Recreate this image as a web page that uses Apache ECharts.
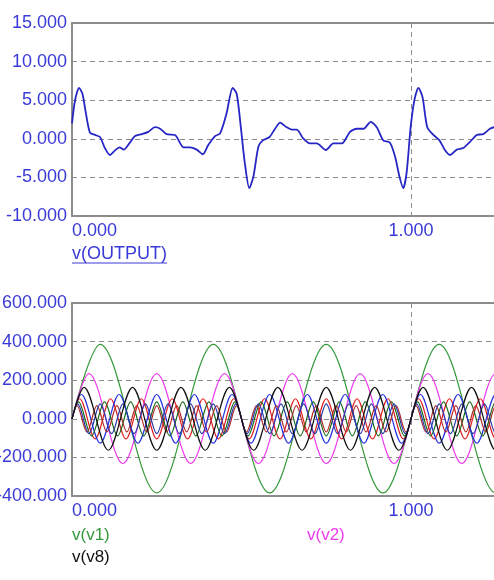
<!DOCTYPE html>
<html>
<head>
<meta charset="utf-8">
<script src="https://cdn.jsdelivr.net/npm/echarts@6.0.0/dist/echarts.min.js"></script>
<style>html,body{margin:0;background:#fff}#chart{width:494px;height:580px}</style>
</head>
<body>
<div id="chart"></div>
<script>
// v(OUTPUT) trace, [time, volts]
const output = [
  [0.000, 2.0], [0.009, 5.0], [0.021, 6.6], [0.031, 5.8], [0.041, 3.3], [0.053, 0.8],
  [0.068, 0.5], [0.083, 0.2], [0.097, -1.2], [0.112, -2.1], [0.127, -1.5], [0.140, -1.1],
  [0.153, -1.4], [0.169, -0.6], [0.186, 0.35], [0.206, 0.6], [0.225, 0.9], [0.245, 1.5],
  [0.260, 1.3], [0.279, 0.6], [0.304, 0.5], [0.329, -1.1], [0.348, -1.1], [0.368, -1.4],
  [0.386, -2.0], [0.402, -0.8], [0.422, 0.35], [0.437, 0.7], [0.456, 3.3], [0.474, 6.6],
  [0.486, 5.8], [0.498, 1.5], [0.510, -3.2], [0.523, -6.4], [0.535, -4.9], [0.550, -1.0],
  [0.563, -0.2], [0.582, 0.2], [0.599, 1.3], [0.614, 2.1], [0.633, 1.5], [0.648, 1.2],
  [0.663, 1.2], [0.682, 0.05], [0.702, -0.6], [0.722, -0.6], [0.749, -1.45], [0.771, -0.6],
  [0.796, -0.6], [0.820, 0.9], [0.840, 1.3], [0.860, 1.3], [0.881, 2.2], [0.899, 1.5],
  [0.918, -0.2], [0.938, -0.5], [0.953, -2.3], [0.966, -4.9], [0.977, -6.4], [0.987, -4.4],
  [0.999, 1.5], [1.010, 5.0], [1.022, 6.6], [1.034, 5.4], [1.048, 1.5], [1.066, 0.5],
  [1.084, -0.2], [1.100, -1.45], [1.115, -2.1], [1.135, -1.4], [1.154, -1.2], [1.174, -0.4],
  [1.194, 0.5], [1.213, 0.6], [1.233, 1.3], [1.254, 1.6]
];

// v(v1)..v(v8): start point plus the peaks and troughs
const v1 = [[0, 0], [0.083, 386], [0.250, -384], [0.417, 386], [0.583, -384], [0.750, 386],
  [0.917, -384], [1.083, 386], [1.250, -384], [1.417, 386]];
const v2 = [[0, 0], [0.05, 234], [0.15, -232], [0.25, 234], [0.35, -232], [0.45, 234], [0.55, -232],
  [0.65, 234], [0.75, -232], [0.85, 234], [0.95, -232], [1.05, 234], [1.15, -232], [1.25, 234], [1.35, -232]];
const v3 = [[0, 0], [0.0227, 104], [0.0682, -104], [0.1136, 104], [0.1591, -104], [0.2045, 104],
  [0.25, -104], [0.2955, 104], [0.3409, -104], [0.3864, 104], [0.4318, -104], [0.4773, 104],
  [0.5227, -104], [0.5682, 104], [0.6136, -104], [0.6591, 104], [0.7045, -104], [0.75, 104],
  [0.7955, -104], [0.8409, 104], [0.8864, -104], [0.9318, 104], [0.9773, -104], [1.0227, 104],
  [1.0682, -104], [1.1136, 104], [1.1591, -104], [1.2045, 104], [1.25, -104], [1.2955, 104]];
const v4 = [[0, 0], [0.0278, 126], [0.0833, -126], [0.1389, 126], [0.1944, -126], [0.25, 126],
  [0.3056, -126], [0.3611, 126], [0.4167, -126], [0.4722, 126], [0.5278, -126], [0.5833, 126],
  [0.6389, -126], [0.6944, 126], [0.75, -126], [0.8056, 126], [0.8611, -126], [0.9167, 126],
  [0.9722, -126], [1.0278, 126], [1.0833, -126], [1.1389, 126], [1.1944, -126], [1.25, 126], [1.3056, -126]];
const v5 = [[0, 0], [0.0192, 88], [0.0577, -88], [0.0962, 88], [0.1346, -88], [0.1731, 88], [0.2115, -88],
  [0.25, 88], [0.2885, -88], [0.3269, 88], [0.3654, -88], [0.4038, 88], [0.4423, -88], [0.4808, 88],
  [0.5192, -88], [0.5577, 88], [0.5962, -88], [0.6346, 88], [0.6731, -88], [0.7115, 88], [0.75, -88],
  [0.7885, 88], [0.8269, -88], [0.8654, 88], [0.9038, -88], [0.9423, 88], [0.9808, -88], [1.0192, 88],
  [1.0577, -88], [1.0962, 88], [1.1346, -88], [1.1731, 88], [1.2115, -88], [1.25, 88], [1.2885, -88]];
const v6 = [[0, 0], [0.0147, 68], [0.0441, -68], [0.0735, 68], [0.1029, -68], [0.1324, 68], [0.1618, -68],
  [0.1912, 68], [0.2206, -68], [0.25, 68], [0.2794, -68], [0.3088, 68], [0.3382, -68], [0.3676, 68],
  [0.3971, -68], [0.4265, 68], [0.4559, -68], [0.4853, 68], [0.5147, -68], [0.5441, 68], [0.5735, -68],
  [0.6029, 68], [0.6324, -68], [0.6618, 68], [0.6912, -68], [0.7206, 68], [0.75, -68], [0.7794, 68],
  [0.8088, -68], [0.8382, 68], [0.8676, -68], [0.8971, 68], [0.9265, -68], [0.9559, 68], [0.9853, -68],
  [1.0147, 68], [1.0441, -68], [1.0735, 68], [1.1029, -68], [1.1324, 68], [1.1618, -68], [1.1912, 68],
  [1.2206, -68], [1.25, 68], [1.2794, -68]];
const v7 = [[0, 0], [0.0167, 77], [0.05, -77], [0.0833, 77], [0.1167, -77], [0.15, 77], [0.1833, -77],
  [0.2167, 77], [0.25, -77], [0.2833, 77], [0.3167, -77], [0.35, 77], [0.3833, -77], [0.4167, 77],
  [0.45, -77], [0.4833, 77], [0.5167, -77], [0.55, 77], [0.5833, -77], [0.6167, 77], [0.65, -77],
  [0.6833, 77], [0.7167, -77], [0.75, 77], [0.7833, -77], [0.8167, 77], [0.85, -77], [0.8833, 77],
  [0.9167, -77], [0.95, 77], [0.9833, -77], [1.0167, 77], [1.05, -77], [1.0833, 77], [1.1167, -77],
  [1.15, 77], [1.1833, -77], [1.2167, 77], [1.25, -77], [1.2833, 77]];
const v8 = [[0, 0], [0.0357, 163], [0.1071, -163], [0.1786, 163], [0.25, -163], [0.3214, 163], [0.3929, -163],
  [0.4643, 163], [0.5357, -163], [0.6071, 163], [0.6786, -163], [0.75, 163], [0.8214, -163], [0.8929, 163],
  [0.9643, -163], [1.0357, 163], [1.1071, -163], [1.1786, 163], [1.25, -163], [1.3214, 163]];

const xTicks = [0, 1];
const topY = [-10, 15, 5];
const botY = [-400, 600, 200];

const FONT = '"Liberation Sans", Arial, sans-serif';
const LABEL = '#3a3ad8';
const GRIDC = '#8c8c8c';
const X_MAX = 1.2537;

const chart = echarts.init(document.getElementById('chart'));

function xAxisFor(gi) {
  return {
    gridIndex: gi, type: 'value', min: xTicks[0], max: X_MAX, interval: xTicks[1] - xTicks[0],
    axisLine: { show: false }, axisTick: { show: false },
    splitLine: { show: true, lineStyle: { color: GRIDC, type: [5, 4], width: 1 } },
    axisLabel: {
      color: LABEL, fontSize: 18, fontFamily: FONT, margin: 6,
      formatter: v => v.toFixed(3), showMaxLabel: false, alignMinLabel: 'left'
    }
  };
}
function yAxisFor(gi, r) {
  return {
    gridIndex: gi, type: 'value', min: r[0], max: r[1], interval: r[2],
    axisLine: { show: false }, axisTick: { show: false },
    splitLine: { show: true, lineStyle: { color: GRIDC, type: [5, 4], width: 1 } },
    axisLabel: { color: LABEL, fontSize: 18, fontFamily: FONT, margin: 5, formatter: v => v.toFixed(3) }
  };
}

const low = [
  ['v(v1)', v1, '#35993a'], ['v(v2)', v2, '#ee3cee'], ['v(v3)', v3, '#e02020'], ['v(v4)', v4, '#2030e0'],
  ['v(v5)', v5, '#17691a'], ['v(v6)', v6, '#b02828'], ['v(v7)', v7, '#2a3aa8'], ['v(v8)', v8, '#111111']
];

// outerBoundsMode 'none': the frame stays where it is even though labels run off the canvas
const frame = { left: 72, width: 425, height: 193, show: true, borderColor: GRIDC, borderWidth: 2,
  containLabel: false, outerBoundsMode: 'none' };

chart.setOption({
  animation: false,
  backgroundColor: '#fff',
  grid: [
    Object.assign({ top: 23 }, frame),
    Object.assign({ top: 303 }, frame)
  ],
  xAxis: [xAxisFor(0), xAxisFor(1)],
  yAxis: [yAxisFor(0, topY), yAxisFor(1, botY)],
  series: [
    {
      name: 'v(OUTPUT)', type: 'line', xAxisIndex: 0, yAxisIndex: 0, data: output,
      showSymbol: false, smooth: 0.25, lineStyle: { color: '#2626c4', width: 1.8 }
    }
  ].concat(low.map(s => ({
    name: s[0], type: 'line', xAxisIndex: 1, yAxisIndex: 1, data: s[1], smooth: 0.33,
    showSymbol: false, lineStyle: { color: s[2], width: 1.2 }
  }))),
  graphic: [
    { type: 'text', left: 72, top: 245, style: { text: 'v(OUTPUT)', fill: LABEL, font: '18px ' + FONT } },
    { type: 'line', shape: { x1: 72, y1: 263, x2: 167, y2: 263 }, style: { stroke: LABEL, lineWidth: 1 } },
    { type: 'text', left: 72, top: 527, style: { text: 'v(v1)', fill: '#35993a', font: '17px ' + FONT } },
    { type: 'text', left: 307, top: 527, style: { text: 'v(v2)', fill: '#ee3cee', font: '17px ' + FONT } },
    { type: 'text', left: 72, top: 549, style: { text: 'v(v8)', fill: '#111111', font: '17px ' + FONT } }
  ]
});
</script>
</body>
</html>
